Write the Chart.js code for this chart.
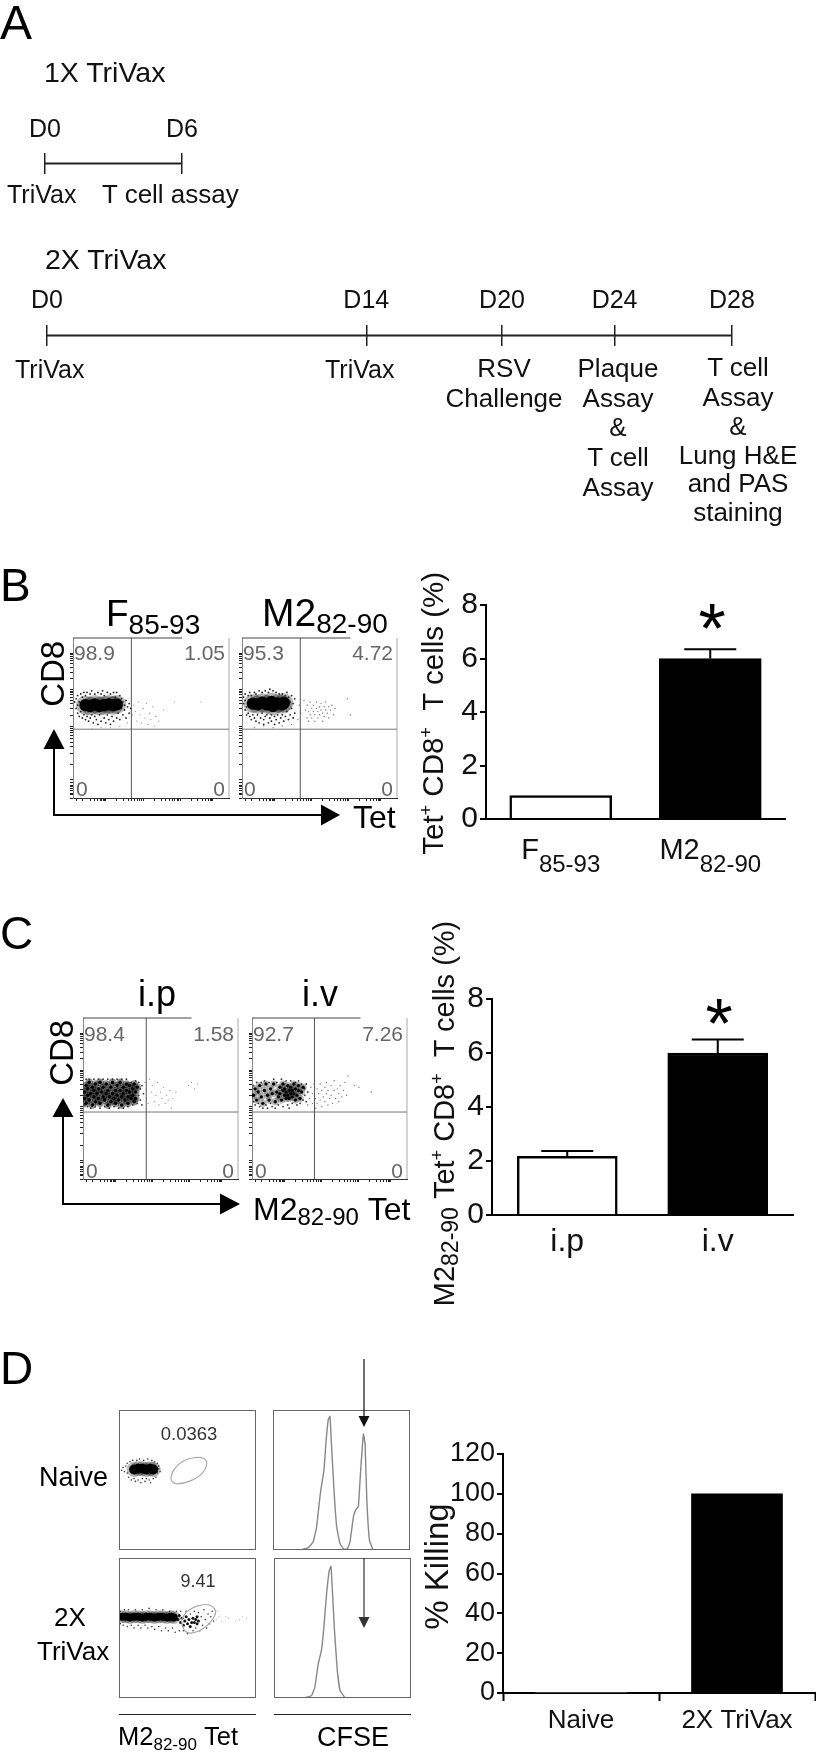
<!DOCTYPE html>
<html>
<head>
<meta charset="utf-8">
<title>TriVax figure</title>
<script src="https://cdn.jsdelivr.net/npm/chart.js@4"></script>
<style>
  html, body { margin: 0; background: #fff; }
  #page { position: relative; width: 816px; height: 1752px; overflow: hidden; font-family: "Liberation Sans", Arial, sans-serif; color: #000; }
  #page canvas { position: absolute; }
  #page svg { position: absolute; left: 0; top: 0; z-index: 3; }
  .t { position: absolute; white-space: nowrap; line-height: 1.117; z-index: 4; }
</style>
</head>
<body>
<div id="page"></div>
<script>
// schedule (A) - positions along the drawn line, it is not quite to scale in days
const oneXDays = [0, 6];
const oneXLabels = ['D0', 'D6'];
const twoXDays = [0, 13.05, 18.6, 23.2, 28];
const twoXLabels = ['D0', 'D14', 'D20', 'D24', 'D28'];

// bars
const bBase = ['F', 'M2'];
const bSub = ['85-93', '82-90'];
const bValues = [0.88, 6.0];
const bErrorTop = [null, 6.35];

const cCategories = ['i.p', 'i.v'];
const cValues = [2.17, 6.0];
const cErrorTop = [2.37, 6.5];

const dCategories = ['Naive', '2X TriVax'];
const dValues = [0, 100];

// flow plot axis ticks (percent of plot)
const flowXTicks = [2, 6, 11, 14, 16, 17.5, 18.5, 19.5, 20.2, 21, 28.2, 32.5, 35.5, 37.8, 39.7, 41.3, 42.7, 43.9, 45, 52.2, 56.5, 59.5, 61.8, 63.7, 65.3, 66.7, 67.9, 68.6, 75.9, 80, 83, 85, 86.7, 88, 89, 89.5];
const flowYTicks = [0, 2, 3, 4.5, 6, 7, 8, 10, 11.5, 20.8, 28, 32, 35, 37.5, 39.3, 41, 42.4, 43.7, 44.8, 51.7, 55.8, 58.8, 61, 62.8, 64.4, 65.7, 66.8, 67.7, 74.6, 78.7, 81.7, 84, 85.8, 87.3, 88.6, 89.7, 90.6];

// B flow clouds, [percent x, percent y]
const bFCore = [[8, 58], [11, 57.5], [14, 58.5], [17, 57.5], [20, 58], [23, 58.5], [26, 58], [28, 58.5]];
const bFHalo = [[1, 60], [2, 56], [2, 62], [3, 58], [3, 53], [3, 64], [4, 51], [4, 60], [5, 65], [5, 54], [6, 50], [6, 63], [7, 66], [7, 52], [8, 49], [8, 64], [9, 66], [9, 51], [10, 48], [11, 65], [11, 50], [12, 67], [12, 52], [13, 47], [14, 65], [14, 51], [15, 49], [16, 66], [16, 46], [17, 52], [18, 65], [18, 48], [19, 67], [20, 50], [20, 64], [21, 47], [22, 66], [22, 52], [23, 49], [24, 65], [24, 46], [25, 51], [26, 66], [26, 48], [27, 63], [28, 50], [28, 66], [29, 53], [30, 64], [30, 49], [31, 56], [31, 62], [32, 52], [32, 60], [33, 58], [33, 55], [34, 61], [34, 50], [35, 57], [36, 59], [36, 53], [37, 56]];
const bFStray = [[12, 43], [18, 44], [24, 44], [30, 45], [35, 47], [38, 52], [39, 58], [40, 54], [41, 48], [42, 60], [43, 52], [44, 47], [45, 56], [46, 50], [47, 59], [48, 46], [49, 53], [50, 49], [51, 57], [52, 45], [53, 51], [55, 48], [58, 55], [65, 60], [82, 60]];

const bMCore = [[7, 59], [10, 58.5], [13, 59.5], [16, 58.5], [19, 60], [20, 57.5], [23, 59], [26, 58.5], [27, 59.5]];
const bMHalo = [[1, 59], [1, 63], [2, 55], [2, 61], [2, 65], [3, 52], [3, 57], [4, 64], [4, 53], [5, 66], [5, 51], [6, 64], [6, 49], [7, 52], [8, 66], [8, 50], [9, 48], [9, 65], [10, 52], [11, 67], [11, 47], [12, 50], [13, 66], [13, 53], [14, 46], [14, 49], [15, 67], [15, 51], [16, 52], [17, 47], [17, 66], [18, 50], [18, 68], [19, 48], [19, 52], [20, 67], [21, 46], [21, 51], [22, 66], [22, 49], [23, 52], [24, 47], [24, 65], [25, 50], [26, 65], [26, 52], [27, 48], [28, 64], [28, 51], [29, 66], [29, 54], [30, 49], [30, 63], [31, 52], [31, 60], [32, 64], [32, 56], [33, 50], [33, 59], [34, 53], [34, 62]];
const bMStray = [[8, 44], [14, 45], [20, 44], [26, 45], [32, 46], [36, 49], [37, 58], [38, 53], [40, 61], [41, 55], [42, 50], [42, 58], [43, 48], [43, 54], [44, 60], [44, 52], [45, 56], [45, 50], [46, 54], [46, 58], [47, 48], [47, 52], [48, 56], [48, 60], [49, 50], [49, 54], [50, 57], [50, 52], [51, 55], [51, 59], [52, 48], [52, 53], [53, 57], [53, 51], [54, 55], [54, 60], [55, 53], [56, 57], [56, 50], [57, 55], [58, 58], [59, 52], [60, 56], [68, 62], [70, 52]];

// C flow clouds
const cPMid = [[1, 50], [1, 54], [2, 58], [2, 47], [3, 52], [3, 56], [4, 49], [4, 60], [5, 53], [6, 46], [6, 57], [7, 51], [7, 55], [8, 59], [8, 48], [9, 53], [10, 56], [10, 50], [11, 47], [11, 60], [12, 54], [13, 51], [13, 57], [14, 49], [15, 53], [15, 59], [16, 46], [16, 55], [17, 51], [18, 57], [18, 48], [19, 53], [19, 60], [20, 50], [21, 55], [21, 47], [22, 52], [22, 58], [23, 49], [24, 55], [24, 60], [25, 51], [25, 46], [26, 57], [26, 53], [27, 49], [28, 55], [28, 59], [29, 51], [29, 47], [30, 54], [30, 58], [31, 50], [32, 56], [32, 52], [33, 48], [33, 59], [34, 54], [34, 50], [35, 57]];
const cPHalo = [[1, 46], [2, 62], [3, 45], [4, 62], [5, 44], [7, 62], [8, 45], [10, 62], [11, 44], [13, 62], [14, 45], [16, 62], [17, 44], [19, 62], [20, 45], [22, 62], [23, 44], [25, 62], [26, 44], [28, 62], [29, 45], [31, 60], [32, 46], [34, 61], [35, 47], [36, 60], [36, 52], [37, 49], [37, 56], [38, 58], [38, 46], [39, 53]];
const cPStray = [[40, 60], [41, 56], [41, 50], [42, 47], [43, 62], [44, 54], [45, 58], [46, 48], [47, 52], [48, 60], [49, 46], [50, 54], [51, 50], [52, 57], [53, 47], [54, 52], [55, 49], [56, 55], [57, 44], [58, 50], [60, 54], [68, 58], [70, 60], [72, 56], [74, 59]];

const cVMid = [[1, 52], [2, 56], [3, 49], [4, 54], [5, 58], [6, 51], [7, 47], [8, 55], [9, 59], [10, 52], [11, 49], [12, 56], [13, 53], [14, 59], [15, 48], [16, 54], [17, 51], [18, 57], [18, 53], [19, 49], [20, 55], [20, 59], [21, 52], [21, 56], [22, 50], [22, 54], [23, 58], [23, 52], [24, 55], [24, 50], [25, 53], [25, 57], [26, 51], [26, 55], [27, 59], [27, 53], [28, 49], [28, 56], [29, 52], [30, 55], [30, 58], [31, 50], [32, 54], [33, 57]];
const cVHalo = [[1, 48], [1, 58], [2, 46], [3, 60], [4, 47], [5, 45], [6, 60], [7, 44], [8, 61], [9, 46], [10, 44], [11, 60], [12, 47], [13, 45], [14, 62], [15, 44], [16, 60], [17, 46], [19, 62], [20, 45], [22, 61], [23, 46], [24, 44], [25, 61], [26, 47], [28, 60], [29, 46], [30, 61], [31, 47], [32, 59], [33, 49], [34, 52], [34, 56], [35, 48], [35, 59], [36, 54]];
const cVStray = [[36, 46], [37, 50], [38, 57], [39, 47], [39, 53], [40, 59], [41, 44], [41, 50], [42, 56], [42, 47], [43, 53], [44, 59], [44, 49], [45, 55], [45, 45], [46, 51], [47, 57], [47, 48], [48, 53], [48, 60], [49, 46], [49, 55], [50, 50], [51, 58], [51, 52], [52, 47], [53, 55], [53, 61], [54, 50], [55, 56], [56, 53], [56, 48], [57, 58], [58, 51], [59, 55], [60, 60], [61, 52], [62, 64], [66, 58], [69, 57], [77, 54]];

// D flow clouds and gates
const dNCore = [[11, 57.5], [14, 58], [17, 58], [20, 57.5], [23, 58], [25, 57.5]];
const dNHalo = [[2, 57], [3, 59], [4, 56], [5, 60], [6, 55], [6, 62], [7, 52], [8, 63], [9, 50], [10, 64], [11, 51], [12, 49], [13, 64], [14, 50], [15, 65], [16, 48], [17, 51], [18, 64], [19, 49], [20, 51], [21, 65], [22, 50], [23, 48], [24, 64], [25, 51], [26, 63], [27, 52], [28, 62], [28, 55], [29, 58], [29, 60], [30, 56]];
const dNGate = [[38, 52.3], [39.9, 57], [46, 63], [54.5, 65.9], [61.8, 65.4], [64, 61.8], [60.6, 54.7], [52.1, 49.4], [42.3, 47.3], [38.4, 49.4], [38, 52.3]];
const d2Core = [[2, 58], [5, 58], [8, 57.5], [11, 58], [14, 58], [17, 57.5], [20, 58], [23, 58], [26, 57.5], [29, 58], [32, 58], [35, 57.5], [38, 58], [40, 57.5]];
const d2Mid = [[43, 56], [44, 59], [45, 54], [46, 57], [47, 52], [48, 55], [49, 58], [50, 53], [51, 56], [52, 51], [53, 54], [54, 57], [55, 54], [56, 56], [57, 53], [57, 58], [58, 55]];
const d2Halo = [[1, 53], [1, 62], [3, 52], [4, 63], [6, 51], [7, 63], [9, 52], [11, 50], [12, 63], [14, 52], [16, 50], [17, 63], [19, 52], [21, 50], [22, 64], [24, 51], [26, 49], [27, 63], [29, 51], [31, 48], [32, 63], [34, 50], [36, 48], [37, 62], [39, 50], [41, 47], [42, 62], [44, 48], [45, 62], [47, 48], [49, 62], [50, 46], [52, 60], [54, 48], [55, 62], [56, 50], [58, 61], [59, 48], [60, 58], [61, 52], [62, 63], [63, 56], [64, 50], [65, 60], [66, 53], [67, 58], [68, 62], [69, 55]];
const d2Stray = [[70, 60], [71, 56], [72, 62], [73, 58], [75, 55], [78, 58], [80, 57], [85, 55], [88, 56], [90, 58], [93, 57]];
const d2Gate = [[45.5, 55.4], [49.1, 61.3], [56.4, 65.4], [65, 66.6], [70.3, 62.5], [68.6, 56.6], [61.3, 49.4], [52.8, 46.3], [47.9, 48.2], [45.5, 55.4]];

// CFSE histograms
const naiveHist = [[20.8, 0.2], [25.7, 1.7], [29.3, 5.7], [31.8, 16.5], [34.7, 41.5], [37.2, 57], [38.6, 76], [40.3, 93], [41.6, 95.5], [42.5, 78.6], [44.7, 40], [46.5, 16.5], [48.9, 4.5], [51.8, 0.5], [54.3, 1], [56.2, 5.7], [58.7, 23.6], [60.6, 29], [62.3, 31], [64, 57], [66, 82.8], [67.2, 76], [68.5, 35.5], [70.4, 7], [72.9, 0.2]];
const vaxHist = [[22.5, 0.2], [27.4, 1.7], [29.8, 7.6], [32.3, 24.3], [34.7, 34.4], [36.4, 50.6], [38.4, 74.5], [40.3, 91], [41.6, 94], [42.5, 79], [44, 50.6], [46.2, 19.6], [48.2, 5.3], [51.8, 0.2]];

Chart.defaults.font.family = '"Liberation Sans", Arial, sans-serif';
Chart.defaults.color = '#000';
Chart.defaults.animation = false;
Chart.defaults.responsive = false;
Chart.defaults.layout.autoPadding = false;
Chart.defaults.plugins.legend.display = false;
Chart.defaults.plugins.tooltip.enabled = false;

const page = document.getElementById('page');
const xy = (pairs) => pairs.map(([x, y]) => ({ x, y }));

function addCanvas(left, top, width, height) {
  const c = document.createElement('canvas');
  c.width = width;
  c.height = height;
  c.style.left = left + 'px';
  c.style.top = top + 'px';
  page.appendChild(c);
  return c.getContext('2d');
}

// text placed by its baseline, rotated text starts at x,y and runs upwards
function put(html, x, y, size, opt = {}) {
  const el = document.createElement('div');
  el.className = 't';
  el.innerHTML = html;
  el.style.fontSize = size + 'px';
  el.style.top = (y - 0.905 * size) + 'px';
  el.style.color = opt.color || '#000';
  if (opt.align === 'r') el.style.right = (816 - x) + 'px';
  else el.style.left = x + 'px';
  if (opt.align === 'c') el.style.transform = 'translateX(-50%)';
  if (opt.rot) {
    el.style.transformOrigin = '0 ' + (0.905 * size) + 'px';
    el.style.transform = 'rotate(-90deg)';
  }
  page.appendChild(el);
}
const low = (t, size, drop) => `<span style="font-size:${size}px;position:relative;top:${drop}px">${t}</span>`;

function timeline(left, top, width, height, padLeft, padRight, axisHeight, days, labels, labelPad) {
  new Chart(addCanvas(left, top, width, height), {
    type: 'scatter',
    data: {
      datasets: [{
        data: days.map((d) => ({ x: d, y: 0 })),
        showLine: true,
        borderColor: '#222',
        borderWidth: 2,
        pointRadius: 0,
      }],
    },
    options: {
      layout: { padding: { left: padLeft, right: padRight, top: 0, bottom: 0 } },
      scales: {
        x: {
          type: 'linear',
          position: 'top',
          min: days[0],
          max: days[days.length - 1],
          afterBuildTicks: (s) => { s.ticks = days.map((d) => ({ value: d })); },
          afterFit: (s) => { s.height = axisHeight; s.paddingLeft = 0; s.paddingRight = 0; },
          grid: { color: '#222', lineWidth: 1.5, drawTicks: false },
          border: { display: false },
          ticks: {
            font: { size: 25 },
            color: '#111',
            padding: labelPad,
            maxRotation: 0,
            autoSkip: false,
            callback: (v, i) => labels[i],
          },
        },
        y: { display: false, min: -1, max: 1 },
      },
    },
  });
}

function barChart(box, labels, values, errorTop, ticksCfg, extra = {}) {
  const errorPlugin = {
    id: 'errorBars',
    afterDatasetsDraw(chart) {
      const { ctx, scales } = chart;
      ctx.save();
      ctx.strokeStyle = '#000';
      ctx.lineWidth = 2;
      errorTop.forEach((top, i) => {
        if (top === null) return;
        const x = scales.x.getPixelForValue(i);
        const y1 = scales.y.getPixelForValue(values[i]);
        const y2 = scales.y.getPixelForValue(top);
        ctx.beginPath();
        ctx.moveTo(x, y1);
        ctx.lineTo(x, y2);
        ctx.moveTo(x - 26, y2);
        ctx.lineTo(x + 26, y2);
        ctx.stroke();
      });
      ctx.restore();
    },
  };
  new Chart(addCanvas(box.left, box.top, box.width, box.height), {
    type: 'bar',
    data: {
      labels,
      datasets: [{
        data: values,
        backgroundColor: ['#fff', '#000'],
        borderColor: ['#000', '#000'],
        borderWidth: values[0] === 0 ? 0 : 2.5,
        barThickness: box.barWidth,
      }],
    },
    options: {
      layout: { padding: { top: box.padTop, right: 1, left: 0, bottom: 0 } },
      scales: {
        x: {
          afterFit: (s) => { s.height = box.xHeight; s.paddingLeft = 0; s.paddingRight = 0; },
          grid: { drawOnChartArea: false, drawTicks: !!extra.xTickMarks, tickLength: 8, tickWidth: 2, tickColor: '#000' },
          border: { color: '#000', width: 2 },
          ticks: extra.xTicks || { display: false },
        },
        y: {
          min: ticksCfg.min,
          max: ticksCfg.max,
          afterFit: (s) => { s.width = box.yWidth; s.paddingTop = 0; s.paddingBottom = 0; },
          grid: { drawOnChartArea: false, tickLength: 6, lineWidth: 2, tickColor: '#000' },
          border: { color: '#000', width: 2 },
          ticks: { stepSize: ticksCfg.step, font: { size: ticksCfg.size }, color: '#111', padding: 2 },
        },
      },
    },
    plugins: [errorPlugin].concat(extra.plugins || []),
  });
}

function flowPlot(plot, layers, gateX, gateY) {
  const lines = [
    { data: [[gateX, 0], [gateX, 100]], color: '#555' },
    { data: [[0, gateY], [100, gateY]], color: '#777' },
    { data: [[0, 100], [70, 100]], color: '#444' },
    { data: [[100, 0], [100, 100]], color: '#aaa' },
  ];
  const datasets = lines.map((l) => ({
    data: xy(l.data), showLine: true, borderColor: l.color, borderWidth: 1, pointRadius: 0, clip: 2,
  })).concat(layers.map((l) => ({
    data: xy(l.data), pointRadius: l.r, backgroundColor: l.color, borderWidth: 0,
  })));
  new Chart(addCanvas(plot.left - 4, plot.top - 1, plot.width + 5, plot.height + 5), {
    type: 'scatter',
    data: { datasets },
    options: {
      layout: { padding: { top: 1, right: 1, left: 0, bottom: 0 } },
      scales: {
        x: {
          type: 'linear', min: 0, max: 100,
          afterBuildTicks: (s) => { s.ticks = flowXTicks.map((v) => ({ value: v })); },
          afterFit: (s) => { s.height = 4; s.paddingLeft = 0; s.paddingRight = 0; },
          grid: { drawOnChartArea: false, tickLength: 3, tickColor: '#222', lineWidth: 1 },
          border: { color: '#333', width: 1 },
          ticks: { display: false, autoSkip: false },
        },
        y: {
          type: 'linear', min: 0, max: 100,
          afterBuildTicks: (s) => { s.ticks = flowYTicks.map((v) => ({ value: v })); },
          afterFit: (s) => { s.width = 4; s.paddingTop = 0; s.paddingBottom = 0; },
          grid: { drawOnChartArea: false, tickLength: 3, tickColor: '#222', lineWidth: 1 },
          border: { color: '#888', width: 1 },
          ticks: { display: false, autoSkip: false },
        },
      },
    },
  });
}

const frameBox = {
  id: 'frameBox',
  afterDraw(chart) {
    const { ctx, chartArea: a } = chart;
    ctx.save();
    ctx.strokeStyle = '#666';
    ctx.lineWidth = 1;
    ctx.strokeRect(a.left + 0.5, a.top + 0.5, a.width - 1, a.height - 1);
    ctx.restore();
  },
};

function boxedPlot(plot, datasets) {
  new Chart(addCanvas(plot.left, plot.top, plot.width, plot.height), {
    type: 'scatter',
    data: { datasets },
    options: {
      scales: {
        x: { display: false, type: 'linear', min: 0, max: 100 },
        y: { display: false, type: 'linear', min: 0, max: 100 },
      },
    },
    plugins: [frameBox],
  });
}
const dots = (data, r, color) => ({ data: xy(data), pointRadius: r, backgroundColor: color, borderWidth: 0 });
const trace = (data, color, width, tension) => ({
  data: xy(data), showLine: true, borderColor: color, borderWidth: width, pointRadius: 0, tension,
});
const soft = 'rgba(0,0,0,0.28)';
const softDark = 'rgba(0,0,0,0.42)';

// ---------- A
put('A', 0, 39, 48);
put('1X TriVax', 44, 83, 28.5, { color: '#111' });
timeline(20, 110, 200, 64, 25, 38, 43, oneXDays, oneXLabels, 8);
put('TriVax', 7, 204, 25, { color: '#111' });
put('T cell assay', 102, 204, 26, { color: '#111' });

put('2X TriVax', 45, 270, 28.5, { color: '#111' });
timeline(20, 280, 770, 66, 27, 58, 45, twoXDays, twoXLabels, 9);
put('TriVax', 15, 379, 25, { color: '#111' });
put('TriVax', 325, 379, 25, { color: '#111' });
[['RSV', 378], ['Challenge', 408]].forEach(([s, y]) => put(s, 504, y, 26, { align: 'c', color: '#111' }));
[['Plaque', 378], ['Assay', 408], ['&amp;', 437], ['T cell', 467], ['Assay', 497]].forEach(([s, y]) => put(s, 618, y, 26, { align: 'c', color: '#111' }));
[['T cell', 377], ['Assay', 407], ['&amp;', 436], ['Lung H&amp;E', 465], ['and PAS', 493], ['staining', 522]].forEach(([s, y]) => put(s, 738, y, 26, { align: 'c', color: '#111' }));

// ---------- B
put('B', 0, 602, 46);
put('F' + low('85-93', 28, 8), 106, 626, 37);
put('M2' + low('82-90', 28, 7), 262, 626, 39);
put('CD8', 65, 707, 33, { rot: true });
put('Tet', 353, 829, 32);
const plotBF = { left: 73, top: 638, width: 156, height: 160 };
const plotBM = { left: 242, top: 638, width: 155, height: 160 };
flowPlot(plotBF, [{ data: bFCore, r: 6.2, color: '#000' }, { data: bFHalo, r: 0.9, color: '#222' }, { data: bFStray, r: 0.6, color: '#888' }, { data: bFCore, r: 9.5, color: soft }], 37.4, 43);
flowPlot(plotBM, [{ data: bMCore, r: 6.2, color: '#000' }, { data: bMHalo, r: 0.9, color: '#222' }, { data: bMStray, r: 0.7, color: '#777' }, { data: bMCore, r: 9.5, color: soft }], 37.6, 43);
put('98.9', 74, 660, 21, { color: '#666' });
put('1.05', 225, 660, 21, { color: '#666', align: 'r' });
put('0', 76, 796, 21, { color: '#666' });
put('0', 225, 796, 21, { color: '#666', align: 'r' });
put('95.3', 243, 660, 21, { color: '#666' });
put('4.72', 393, 660, 21, { color: '#666', align: 'r' });
put('0', 244, 796, 21, { color: '#666' });
put('0', 393, 796, 21, { color: '#666', align: 'r' });

const subscriptLabels = {
  id: 'subscriptLabels',
  afterDraw(chart) {
    const { ctx, scales } = chart;
    const base = chart.chartArea.bottom + 40;
    ctx.save();
    ctx.fillStyle = '#111';
    ctx.textBaseline = 'alphabetic';
    bBase.forEach((b, i) => {
      const x = scales.x.getPixelForValue(i);
      ctx.font = '29px "Liberation Sans"';
      const w1 = ctx.measureText(b).width;
      ctx.font = '24px "Liberation Sans"';
      const w2 = ctx.measureText(bSub[i]).width;
      const start = x - (w1 + w2) / 2;
      ctx.font = '29px "Liberation Sans"';
      ctx.fillText(b, start, base);
      ctx.font = '24px "Liberation Sans"';
      ctx.fillText(bSub[i], start + w1, base + 13);
    });
    ctx.restore();
  },
};
barChart(
  { left: 440, top: 590, width: 346, height: 290, padTop: 15, xHeight: 61, yWidth: 46, barWidth: 102 },
  bBase.map((b, i) => b + bSub[i]), bValues, bErrorTop,
  { min: 0, max: 8, step: 2, size: 30 },
  { plugins: [subscriptLabels] },
);
put('Tet' + low('+', 18, -11) + '&nbsp;CD8' + low('+', 18, -11) + '&nbsp;&nbsp;T cells (%)', 444, 855, 29.5, { rot: true, color: '#111' });
put('*', 712, 653, 70, { align: 'c' });

// ---------- C
put('C', 0, 950, 46);
put('i.p', 157, 1007, 36, { align: 'c' });
put('i.v', 320, 1007, 36, { align: 'c' });
put('CD8', 74, 1086, 33, { rot: true });
put('M2' + low('82-90', 24, 5) + '&nbsp;Tet', 253, 1221, 32);
const plotCP = { left: 83, top: 1018, width: 155, height: 161 };
const plotCV = { left: 252, top: 1018, width: 155, height: 161 };
flowPlot(plotCP, [{ data: cPMid, r: 1.8, color: '#000' }, { data: cPHalo, r: 0.9, color: '#333' }, { data: cPStray, r: 0.6, color: '#888' }, { data: cPMid, r: 3.8, color: softDark }], 40.8, 41.6);
flowPlot(plotCV, [{ data: cVMid, r: 1.7, color: '#000' }, { data: cVHalo, r: 0.9, color: '#333' }, { data: cVStray, r: 0.7, color: '#777' }, { data: cVMid, r: 3.6, color: soft }], 40.3, 41.6);
put('98.4', 84, 1041, 21, { color: '#666' });
put('1.58', 234, 1041, 21, { color: '#666', align: 'r' });
put('0', 86, 1178, 21, { color: '#666' });
put('0', 234, 1178, 21, { color: '#666', align: 'r' });
put('92.7', 253, 1041, 21, { color: '#666' });
put('7.26', 403, 1041, 21, { color: '#666', align: 'r' });
put('0', 255, 1178, 21, { color: '#666' });
put('0', 403, 1178, 21, { color: '#666', align: 'r' });

barChart(
  { left: 445, top: 985, width: 349, height: 280, padTop: 14, xHeight: 50, yWidth: 47, barWidth: 100 },
  cCategories, cValues, cErrorTop,
  { min: 0, max: 8, step: 2, size: 30 },
  { xTicks: { font: { size: 32 }, color: '#111', padding: 8, maxRotation: 0 } },
);
put('M2' + low('82-90', 23, 4) + '&nbsp;Tet' + low('+', 18, -11) + '&nbsp;CD8' + low('+', 18, -11) + '&nbsp;&nbsp;T cells (%)', 454, 1306, 29, { rot: true, color: '#111' });
put('*', 719, 1048, 70, { align: 'c' });

// ---------- D
put('D', 0, 1385, 46);
put('Naive', 39, 1486, 27);
put('2X', 70, 1627, 26, { align: 'c' });
put('TriVax', 37, 1661, 26);
boxedPlot({ left: 119, top: 1410, width: 137, height: 140 }, [
  trace(dNGate, '#aaa', 1.2, 0.4), dots(dNCore, 5, '#000'), dots(dNHalo, 0.8, '#333'), dots(dNCore, 7.5, soft),
]);
boxedPlot({ left: 119, top: 1558, width: 137, height: 140 }, [
  trace(d2Gate, '#aaa', 1.2, 0.4), dots(d2Core, 4, '#000'), dots(d2Mid, 1.5, '#111'), dots(d2Halo, 0.8, '#333'), dots(d2Stray, 0.6, '#aaa'), dots(d2Core, 6.5, soft),
]);
boxedPlot({ left: 273, top: 1410, width: 137, height: 140 }, [trace(naiveHist, '#888', 1.4, 0.1)]);
boxedPlot({ left: 274, top: 1558, width: 137, height: 140 }, [trace(vaxHist, '#888', 1.4, 0.1)]);
put('0.0363', 189, 1441, 18.5, { align: 'c', color: '#333' });
put('9.41', 198, 1587, 18, { align: 'c', color: '#333' });
put('M2' + low('82-90', 17, 5) + '&nbsp;Tet', 118, 1745, 25.5);
put('CFSE', 353, 1746, 27, { align: 'c' });

barChart(
  { left: 440, top: 1440, width: 376, height: 303, padTop: 14, xHeight: 50, yWidth: 63, barWidth: 91 },
  dCategories, dValues, [null, null],
  { min: 0, max: 120, step: 20, size: 27 },
  { xTickMarks: true, xTicks: { font: { size: 26 }, color: '#111', padding: 4, maxRotation: 0 } },
);
put('% Killing', 449, 1630, 33, { rot: true, color: '#111' });

// arrows and rules, they are annotation and not data
function arrow(x1, y1, x2, y2, len, half, color, width) {
  const dx = Math.sign(x2 - x1);
  const dy = Math.sign(y2 - y1);
  const bx = x2 - dx * len;
  const by = y2 - dy * len;
  return `<line x1="${x1}" y1="${y1}" x2="${bx}" y2="${by}" stroke="${color}" stroke-width="${width}"/>` +
    `<polygon fill="${color}" points="${x2},${y2} ${bx + dy * half},${by + dx * half} ${bx - dy * half},${by - dx * half}"/>`;
}
const rule = (x1, x2, y) => `<line x1="${x1}" y1="${y}" x2="${x2}" y2="${y}" stroke="#222" stroke-width="1"/>`;
const svg = document.createElementNS('http://www.w3.org/2000/svg', 'svg');
svg.setAttribute('width', 816);
svg.setAttribute('height', 1752);
svg.innerHTML = [
  arrow(54, 815, 54, 729, 20, 10.5, '#000', 2),
  arrow(53, 815, 340, 815, 19, 10.5, '#000', 2),
  arrow(63, 1204, 63, 1098, 19, 10.5, '#000', 2),
  arrow(62, 1204, 240, 1204, 20, 10.5, '#000', 2),
  arrow(364, 1359, 364, 1427, 11, 5.5, '#111', 1.2),
  arrow(364, 1558, 364, 1628, 11, 5.5, '#333', 1.2),
  rule(119, 256, 1714.5),
  rule(274, 411, 1714.5),
].join('');
page.appendChild(svg);
</script>
</body>
</html>
